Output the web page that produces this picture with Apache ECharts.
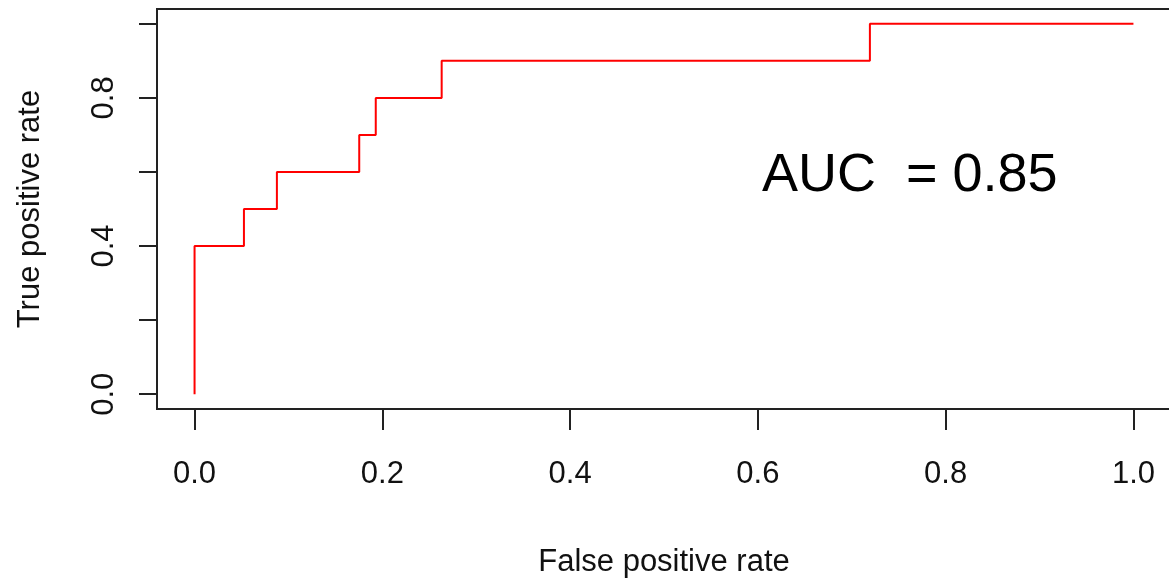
<!DOCTYPE html>
<html>
<head>
    <meta charset="UTF-8"/>
    <title>ROC</title>
    <script type="text/javascript" src="https://cdn.jsdelivr.net/npm/echarts@6/dist/echarts.min.js"></script>
    <style>
        body { margin: 0; background: #fff; }
    </style>
</head>
<body>

<div id="main" style="width: 1169px;height:580px;"></div>

<script type="text/javascript">
    // ROC curve corners (false positive rate, true positive rate)
    var fpr = [0, 0, 0.0526, 0.0526, 0.0877, 0.0877, 0.1754, 0.1754, 0.1930, 0.1930, 0.2632, 0.2632, 0.7193, 0.7193, 1.0];
    var tpr = [0, 0.4, 0.4, 0.5, 0.5, 0.6, 0.6, 0.7, 0.7, 0.8, 0.8, 0.9, 0.9, 1.0, 1.0];
    var xTicks = [0, 0.2, 0.4, 0.6, 0.8, 1.0];
    var yTicks = [0, 0.2, 0.4, 0.6, 0.8, 1.0];
    var yLabels = [0, 0.4, 0.8];
    var aucText = 'AUC  = 0.85';

    var points = fpr.map(function (x, i) { return [x, tpr[i]]; });
    var font = 'Liberation Sans, Arial, sans-serif';

    var myChart = echarts.init(document.getElementById('main'));

    option = {
        animation: false,
        title: {
            text: aucText,
            left: 757,
            top: 144,
            textStyle: { fontFamily: font, fontSize: 54, fontWeight: 'normal', color: '#000' }
        },
        grid: {
            left: 157,
            top: 9,
            width: 1014,
            height: 400,
            containLabel: false,
            outerBoundsMode: 'none',
            show: true,
            borderColor: '#222',
            borderWidth: 2
        },
        xAxis: {
            type: 'value',
            min: -0.04,
            max: 1.04,
            name: 'False positive rate',
            nameLocation: 'middle',
            nameGap: 138,
            nameTextStyle: { fontFamily: font, fontSize: 31, color: '#111' },
            splitLine: { show: false },
            axisLine: { show: false, onZero: false },
            axisTick: {
                show: true, length: 21, customValues: xTicks,
                lineStyle: { color: '#222', width: 2 }
            },
            axisLabel: {
                customValues: xTicks, margin: 50,
                fontFamily: font, fontSize: 31, color: '#111',
                formatter: function (v) { return v.toFixed(1); }
            }
        },
        yAxis: {
            type: 'value',
            min: -0.04,
            max: 1.04,
            name: 'True positive rate',
            nameLocation: 'middle',
            nameRotate: 90,
            nameGap: 111,
            nameTextStyle: { fontFamily: font, fontSize: 31, color: '#111' },
            splitLine: { show: false },
            axisLine: { show: false, onZero: false },
            axisTick: {
                show: true, length: 18, customValues: yTicks,
                lineStyle: { color: '#222', width: 2 }
            },
            axisLabel: {
                customValues: yLabels, margin: 37, rotate: 90,
                fontFamily: font, fontSize: 31, color: '#111',
                formatter: function (v) { return v.toFixed(1); }
            }
        },
        series: [{
            type: 'line',
            data: points,
            showSymbol: false,
            lineStyle: { color: '#ff0000', width: 2 }
        }]
    };
    myChart.setOption(option);
</script>
</body>
</html>
